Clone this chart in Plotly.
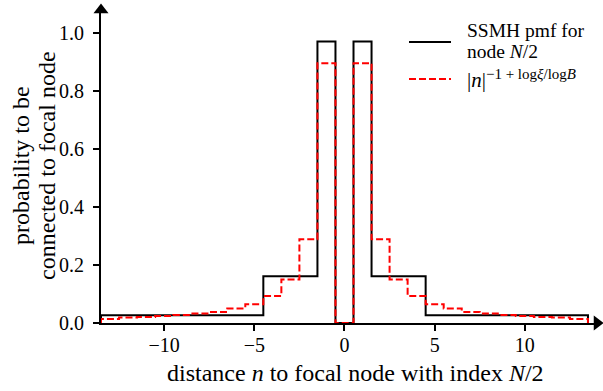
import plotly.graph_objects as go

# distance n to focal node
n = list(range(-13, 14))
ssmh_pmf = [0.027, 0.027, 0.027, 0.027, 0.027, 0.027, 0.027, 0.027, 0.027,
            0.161, 0.161, 0.161, 0.971, 0.0, 0.971, 0.161, 0.161, 0.161,
            0.027, 0.027, 0.027, 0.027, 0.027, 0.027, 0.027, 0.027, 0.027]
power_law = [0.014, 0.019, 0.021, 0.024, 0.028, 0.033, 0.038, 0.050, 0.065,
             0.093, 0.150, 0.289, 0.896, 0.0, 0.896, 0.289, 0.150, 0.093,
             0.065, 0.050, 0.038, 0.033, 0.028, 0.024, 0.021, 0.019, 0.014]
x_ticks = [-10, -5, 0, 5, 10]
y_ticks = [0.0, 0.2, 0.4, 0.6, 0.8, 1.0]
legend_black = ["SSMH pmf for", "node <i>N</i>/2"]
legend_red = ("<span style='font-size:21px'>|<i>n</i>|</span>"
              "<sup><span style='font-size:15px'>−1 + log<i>ξ</i>/log<i>B</i>"
              "</span></sup>")
x_title = "distance <i>n</i> to focal node with index <i>N</i>/2"
y_title = ["probability to be", "connected to focal node"]

X_RANGE = [-13.5, 14.0]
Y_RANGE = [0.0, 1.08]

W, H = 603, 391
ML, MR, MT, MB = 101, 6, 10, 68
PL, PR, PT, PB = ML, W - MR, MT, H - MB


def px2paper_x(px):
    return (px - PL) / (PR - PL)


def px2paper_y(py):
    return (PB - py) / (PB - PT)


def stairs(xs, vals):
    edges = [x - 0.5 for x in xs] + [xs[-1] + 0.5]
    px = [edges[0]] + edges[:-1] + [edges[-1], edges[-1]]
    py = [0.0] + list(vals) + [vals[-1], 0.0]
    return px, py


FONT = "Liberation Serif"
DASH = "7px,3px"
TICK_SIZE = 20
TITLE_SIZE = 24
LEG_SIZE = 19.5

fig = go.Figure()
bx, by = stairs(n, ssmh_pmf)
fig.add_trace(go.Scatter(
    x=bx, y=by, mode="lines", line=dict(color="black", width=2, shape="hv"),
    name="SSMH pmf for node N/2", showlegend=False))
rx, ry = stairs(n, power_law)
fig.add_trace(go.Scatter(
    x=rx, y=ry, mode="lines",
    line=dict(color="red", width=2, shape="hv", dash=DASH),
    name="|n|^(-1+log xi/log B)", showlegend=False))

# axis arrow heads
fig.add_trace(go.Scatter(
    x=[X_RANGE[1]], y=[Y_RANGE[0]], mode="markers", cliponaxis=False,
    marker=dict(symbol="triangle-right", size=13, color="black"),
    showlegend=False, hoverinfo="skip"))
fig.add_trace(go.Scatter(
    x=[X_RANGE[0]], y=[Y_RANGE[1]], mode="markers", cliponaxis=False,
    marker=dict(symbol="triangle-up", size=13, color="black"),
    showlegend=False, hoverinfo="skip"))

# manual legend
shapes = [
    dict(type="line", xref="paper", yref="paper",
         x0=px2paper_x(409), x1=px2paper_x(451),
         y0=px2paper_y(42), y1=px2paper_y(42),
         line=dict(color="black", width=2)),
    dict(type="line", xref="paper", yref="paper",
         x0=px2paper_x(409), x1=px2paper_x(451),
         y0=px2paper_y(79), y1=px2paper_y(79),
         line=dict(color="red", width=2, dash=DASH)),
]
annotations = [
    dict(text=legend_black[0], x=px2paper_x(465), y=px2paper_y(30),
         xanchor="left", yanchor="middle", font_size=LEG_SIZE),
    dict(text=legend_black[1], x=px2paper_x(465), y=px2paper_y(52),
         xanchor="left", yanchor="middle", font_size=LEG_SIZE),
    dict(text=legend_red, x=px2paper_x(465), y=px2paper_y(79),
         xanchor="left", yanchor="middle", font_size=LEG_SIZE),
    # axis titles
    dict(text=x_title, x=px2paper_x(355), y=px2paper_y(373),
         xanchor="center", yanchor="middle", font_size=TITLE_SIZE),
    dict(text=y_title[0], x=px2paper_x(21), y=px2paper_y(166),
         xanchor="center", yanchor="middle", textangle=-90,
         font_size=TITLE_SIZE),
    dict(text=y_title[1], x=px2paper_x(47), y=px2paper_y(166),
         xanchor="center", yanchor="middle", textangle=-90,
         font_size=TITLE_SIZE),
]
for a in annotations:
    size = a.pop("font_size")
    a.update(xref="paper", yref="paper", showarrow=False,
             font=dict(family=FONT, size=size, color="black"))

fig.update_layout(
    width=W, height=H,
    margin=dict(l=ML, r=MR, t=MT, b=MB, autoexpand=False),
    plot_bgcolor="white", paper_bgcolor="white",
    font=dict(family=FONT, size=TICK_SIZE, color="black"),
    showlegend=False,
    shapes=shapes, annotations=annotations,
)
fig.update_xaxes(
    range=X_RANGE, tickvals=x_ticks, showgrid=False, zeroline=False,
    showline=True, linecolor="black", linewidth=2,
    ticks="outside", ticklen=6, tickwidth=1.5, tickcolor="black",
    tickfont=dict(family=FONT, size=TICK_SIZE, color="black"),
    ticklabelstandoff=-3,
    automargin=False,
)
fig.update_yaxes(
    range=Y_RANGE, tickvals=y_ticks, tickformat=".1f", showgrid=False,
    zeroline=False, showline=True, linecolor="black", linewidth=2,
    ticks="outside", ticklen=6, tickwidth=1.5, tickcolor="black",
    tickfont=dict(family=FONT, size=TICK_SIZE, color="black"),
    ticklabelstandoff=5,
    automargin=False,
)

fig.write_html("out.html",
               config={"displayModeBar": False},
               post_script="document.body.style.margin='0px';"
                           "document.body.style.padding='0px';")
